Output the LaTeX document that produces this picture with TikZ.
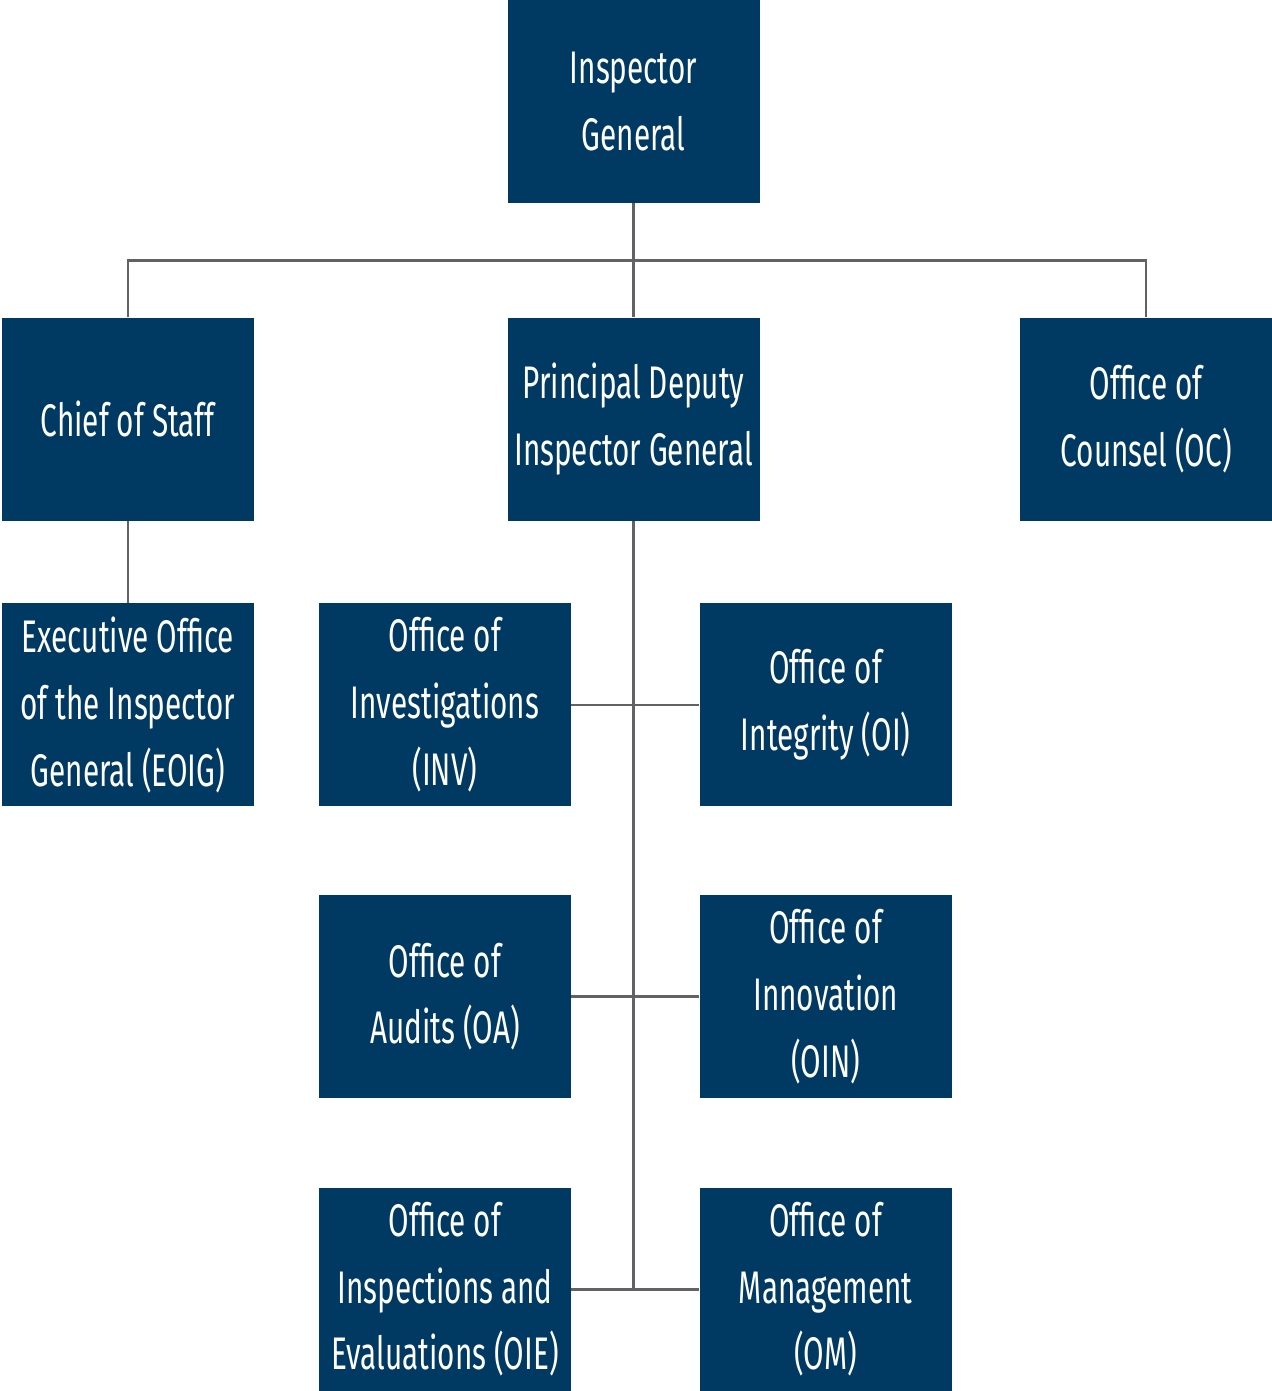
\documentclass[tikz,border=0pt]{standalone}
\usepackage{fontspec}
\setmainfont{Fira Sans}[FakeStretch=0.65]
\usepackage{tikz}
\usetikzlibrary{positioning}

\definecolor{oignavy}{HTML}{003A63}
\definecolor{oigline}{HTML}{606265}

\begin{document}
\begin{tikzpicture}[
  node distance=1.64cm and 2.56cm,
  unit/.style={fill=oignavy, text=white, inner sep=0pt, minimum width=5.04cm, minimum height=4.06cm, align=center, font=\fontsize{26}{38}\selectfont},
  link/.style={draw=oigline, line width=1.4pt}
]
\useasboundingbox (0,0) rectangle (25.42,-27.82);

\node[unit] (ig) at (12.67,-2.03) {Inspector\\General};
\node[unit, below=2.28cm of ig] (pdig) {Principal Deputy\\Inspector General};
\node[unit, left=5.06cm of pdig] (cos) {Chief of Staff};
\node[unit, right=5.2cm of pdig] (oc) {Office of\\Counsel (OC)};
\node[unit, below=of cos] (eoig) {Executive Office\\of the Inspector\\General (EOIG)};
\node[unit, below=of pdig, xshift=-3.77cm] (inv) {Office of\\Investigations\\(INV)};
\node[unit, right=of inv] (oi) {Office of\\Integrity (OI)};
\node[unit, below=1.76cm of inv] (oa) {Office of\\Audits (OA)};
\node[unit, below=1.76cm of oi] (oin) {Office of\\Innovation\\(OIN)};
\node[unit, below=1.78cm of oa] (oie) {Office of\\Inspections and\\Evaluations (OIE)};
\node[unit, below=1.78cm of oin] (om) {Office of\\Management\\(OM)};

\coordinate[below=1.14cm of ig] (bar);

% top level
\draw[link] (ig.south) -- (pdig.north);
\draw[link] (cos.north) |- (bar) -| (oc.north);
\draw[link] (cos.south) -- (eoig.north);

% offices under the principal deputy
\draw[link] (pdig.south) -- (pdig.south |- oie.east);
\draw[link] (inv.east) -- (oi.west);
\draw[link] (oa.east) -- (oin.west);
\draw[link] (oie.east) -- (om.west);
\end{tikzpicture}
\end{document}
